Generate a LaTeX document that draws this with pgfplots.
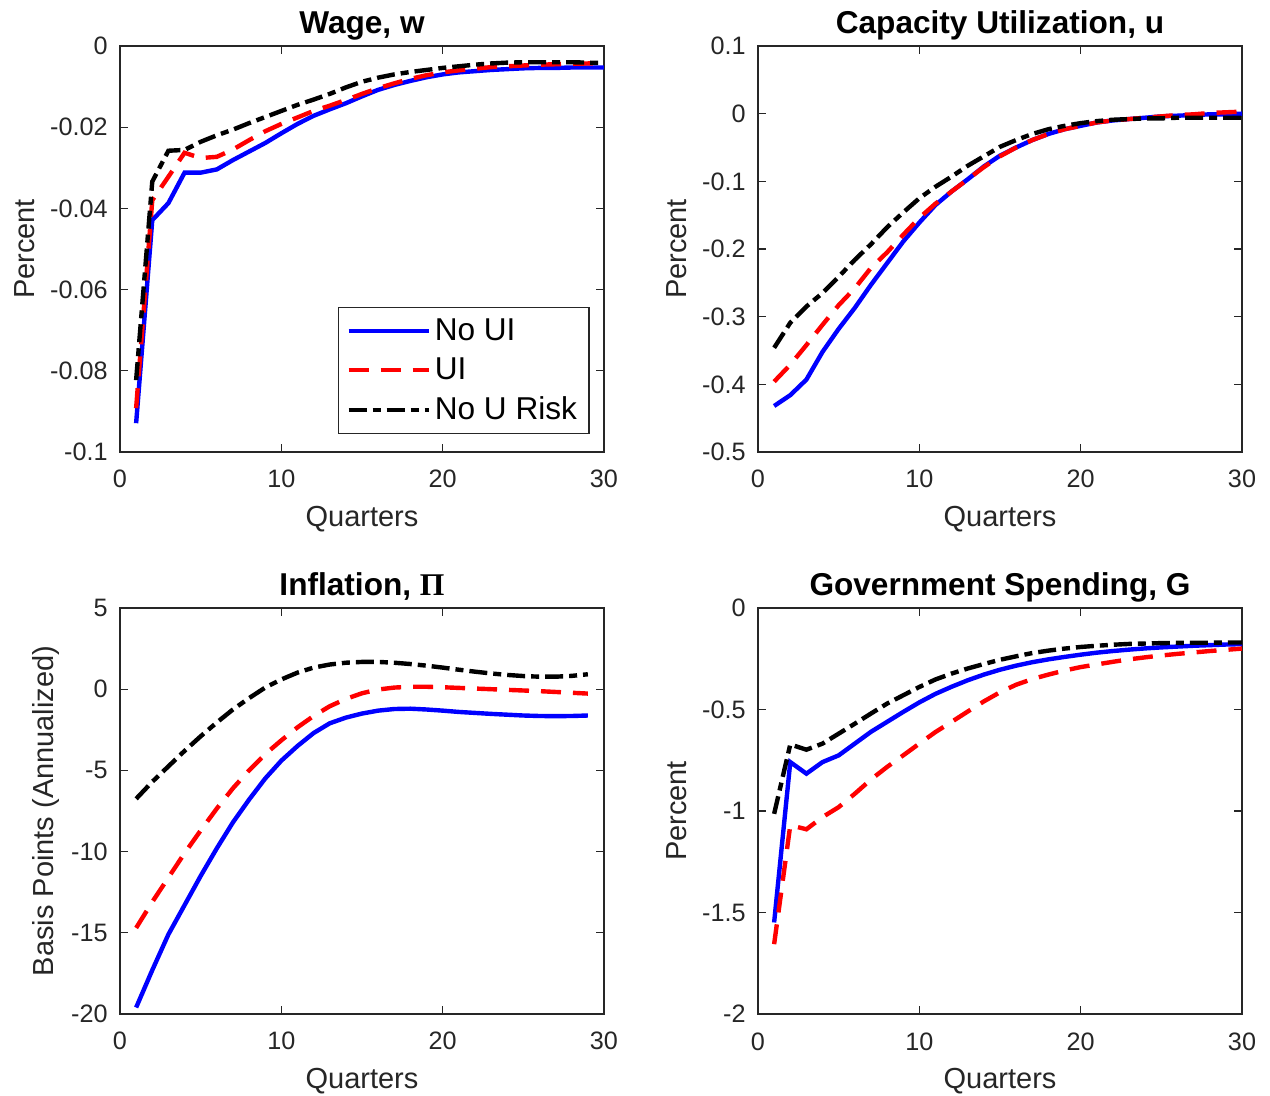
\documentclass[border=0pt]{standalone}
\usepackage{pgfplots}
\pgfplotsset{compat=1.18}
\usepackage{fontspec}
\setmainfont{Liberation Sans}
\newfontfamily\serifbf{Liberation Serif}
\definecolor{axgray}{rgb}{0.15,0.15,0.15}
\newcommand{\ticksize}{\fontsize{12.6}{14}\selectfont}
\newcommand{\labsize}{\fontsize{14.5}{16}\selectfont}
\newcommand{\titsize}{\fontsize{15.8}{18}\selectfont}
\newcommand{\legsize}{\fontsize{15.8}{18}\selectfont}
\pgfplotsset{
  every axis title shift=0pt,
  myax/.style={
    scale only axis, width=242pt, height=203pt,
    xmin=0, xmax=30, xtick={0,10,20,30}, xticklabels={0,10,20,30},
    tick align=inside, tick pos=both,
    axis line style={draw=axgray, line width=0.6pt},
    major tick style={draw=axgray, line width=0.6pt},
    major tick length=4pt,
    ticklabel style={font=\ticksize, text=axgray},
    xticklabel style={inner sep=0pt, anchor=north, yshift=-9pt},
    yticklabel style={inner sep=0pt, anchor=east, xshift=-6pt},
    xlabel style={at={(axis description cs:0.5,-0.184)}, anchor=base, font=\labsize, text=axgray},
    title style={at={(axis description cs:0.5,1.031)}, anchor=base, font=\titsize\bfseries, text=black},
    scaled ticks=false,
    legend image code/.code={\draw[#1] (0pt,0pt) -- (40pt,0pt);},
  },
  noui/.style={blue, line width=2.2pt, solid},
  ui/.style={red, line width=2.2pt, dash pattern=on 10pt off 6pt},
  nour/.style={black, line width=2.2pt, dash pattern=on 9pt off 3pt on 4pt off 3pt},
}
\begin{document}
\begin{tikzpicture}
\useasboundingbox (0,0) rectangle (635pt,-548pt);
% ---------------- Wage
\begin{axis}[myax, at={(60pt,-23pt)}, anchor=north west,
  ymin=-0.1, ymax=0, ytick={-0.1,-0.08,-0.06,-0.04,-0.02,0},
  yticklabels={-0.1,-0.08,-0.06,-0.04,-0.02,0},
  title={Wage, w}, xlabel={Quarters}, ylabel={Percent},
  ylabel style={at={(axis description cs:-0.198,0.5)}, anchor=center, rotate=0, font=\labsize, text=axgray},
  legend style={at={(axis description cs:0.45,0.357)}, anchor=north west, font=\legsize, draw=axgray, line width=0.6pt, row sep=3.2pt, inner xsep=4pt, inner ysep=3.5pt},
  legend cell align=left]
\addplot[noui] coordinates {(1,-0.0929) (2,-0.0429) (3,-0.0387) (4,-0.0312) (5,-0.0312) (6,-0.0304) (7,-0.0281) (8,-0.0260) (9,-0.0239) (10,-0.0215) (11,-0.0192) (12,-0.0172) (13,-0.0156) (14,-0.0141) (15,-0.0124) (16,-0.0108) (17,-0.0096) (18,-0.0086) (19,-0.0077) (20,-0.0070) (21,-0.0065) (22,-0.0062) (23,-0.0059) (24,-0.0057) (25,-0.0055) (26,-0.0054) (27,-0.0054) (28,-0.0053) (29,-0.0053) (30,-0.0053)};
\addplot[ui] coordinates {(1,-0.0892) (2,-0.0380) (3,-0.0322) (4,-0.0263) (5,-0.0276) (6,-0.0273) (7,-0.0255) (8,-0.0232) (9,-0.0210) (10,-0.0192) (11,-0.0176) (12,-0.0160) (13,-0.0147) (14,-0.0133) (15,-0.0118) (16,-0.0104) (17,-0.0092) (18,-0.0081) (19,-0.0072) (20,-0.0065) (21,-0.0060) (22,-0.0056) (23,-0.0052) (24,-0.0050) (25,-0.0048) (26,-0.0046) (27,-0.0045) (28,-0.0044) (29,-0.0043) (30,-0.0042)};
\addplot[nour] coordinates {(1,-0.0823) (2,-0.0334) (3,-0.0258) (4,-0.0256) (5,-0.0236) (6,-0.0220) (7,-0.0206) (8,-0.0190) (9,-0.0175) (10,-0.0160) (11,-0.0145) (12,-0.0132) (13,-0.0118) (14,-0.0102) (15,-0.0088) (16,-0.0078) (17,-0.0070) (18,-0.0064) (19,-0.0059) (20,-0.0054) (21,-0.0050) (22,-0.0046) (23,-0.0043) (24,-0.0041) (25,-0.0040) (26,-0.0040) (27,-0.0040) (28,-0.0040) (29,-0.0041) (30,-0.0042)};
\legend{No UI, UI, No U Risk}
\end{axis}
% ---------------- Capacity utilization
\begin{axis}[myax, at={(379pt,-23pt)}, anchor=north west,
  ymin=-0.5, ymax=0.1, ytick={-0.5,-0.4,-0.3,-0.2,-0.1,0,0.1},
  yticklabels={-0.5,-0.4,-0.3,-0.2,-0.1,0,0.1},
  title={Capacity Utilization, u}, xlabel={Quarters}, ylabel={Percent},
  ylabel style={at={(axis description cs:-0.169,0.5)}, anchor=center, font=\labsize, text=axgray}]
\addplot[noui] coordinates {(1,-0.432) (2,-0.416) (3,-0.393) (4,-0.352) (5,-0.318) (6,-0.287) (7,-0.253) (8,-0.221) (9,-0.189) (10,-0.161) (11,-0.135) (12,-0.115) (13,-0.097) (14,-0.078) (15,-0.062) (16,-0.050) (17,-0.039) (18,-0.030) (19,-0.023) (20,-0.018) (21,-0.013) (22,-0.010) (23,-0.008) (24,-0.006) (25,-0.004) (26,-0.003) (27,-0.002) (28,-0.001) (29,-0.001) (30,0.000)};
\addplot[ui] coordinates {(1,-0.396) (2,-0.371) (3,-0.342) (4,-0.312) (5,-0.283) (6,-0.258) (7,-0.228) (8,-0.205) (9,-0.179) (10,-0.154) (11,-0.133) (12,-0.115) (13,-0.097) (14,-0.079) (15,-0.063) (16,-0.050) (17,-0.039) (18,-0.030) (19,-0.023) (20,-0.018) (21,-0.013) (22,-0.010) (23,-0.008) (24,-0.006) (25,-0.004) (26,-0.002) (27,-0.001) (28,0.001) (29,0.002) (30,0.003)};
\addplot[nour] coordinates {(1,-0.346) (2,-0.309) (3,-0.285) (4,-0.265) (5,-0.241) (6,-0.216) (7,-0.193) (8,-0.168) (9,-0.146) (10,-0.125) (11,-0.108) (12,-0.093) (13,-0.077) (14,-0.063) (15,-0.049) (16,-0.039) (17,-0.030) (18,-0.023) (19,-0.018) (20,-0.014) (21,-0.011) (22,-0.009) (23,-0.008) (24,-0.007) (25,-0.007) (26,-0.006) (27,-0.006) (28,-0.006) (29,-0.006) (30,-0.006)};
\end{axis}
% ---------------- Inflation
\begin{axis}[myax, at={(60pt,-304pt)}, anchor=north west,
  ymin=-20, ymax=5, ytick={-20,-15,-10,-5,0,5},
  yticklabels={-20,-15,-10,-5,0,5},
  title={Inflation, {\serifbf\bfseries Π}}, xlabel={Quarters}, ylabel={Basis Points (Annualized)},
  ylabel style={at={(axis description cs:-0.153,0.5)}, anchor=center, font=\labsize, text=axgray}]
\addplot[noui] coordinates {(1,-19.6) (2,-17.3) (3,-15.1) (4,-13.3) (5,-11.5) (6,-9.8) (7,-8.2) (8,-6.8) (9,-5.5) (10,-4.4) (11,-3.5) (12,-2.7) (13,-2.1) (14,-1.75) (15,-1.5) (16,-1.32) (17,-1.22) (18,-1.2) (19,-1.25) (20,-1.32) (21,-1.4) (22,-1.46) (23,-1.52) (24,-1.57) (25,-1.62) (26,-1.65) (27,-1.66) (28,-1.65) (29,-1.62)};
\addplot[ui] coordinates {(1,-14.7) (2,-13.1) (3,-11.6) (4,-10.1) (5,-8.7) (6,-7.35) (7,-6.1) (8,-5.0) (9,-4.0) (10,-3.15) (11,-2.35) (12,-1.65) (13,-1.05) (14,-0.6) (15,-0.25) (16,-0.02) (17,0.1) (18,0.15) (19,0.15) (20,0.12) (21,0.08) (22,0.04) (23,0.0) (24,-0.04) (25,-0.08) (26,-0.12) (27,-0.17) (28,-0.22) (29,-0.27)};
\addplot[nour] coordinates {(1,-6.75) (2,-5.7) (3,-4.75) (4,-3.8) (5,-2.9) (6,-2.05) (7,-1.25) (8,-0.55) (9,0.1) (10,0.6) (11,1.02) (12,1.33) (13,1.52) (14,1.63) (15,1.68) (16,1.68) (17,1.63) (18,1.55) (19,1.45) (20,1.33) (21,1.2) (22,1.08) (23,0.97) (24,0.88) (25,0.81) (26,0.77) (27,0.77) (28,0.82) (29,0.92)};
\end{axis}
% ---------------- Government spending
\begin{axis}[myax, at={(379pt,-304pt)}, anchor=north west,
  ymin=-2, ymax=0, ytick={-2,-1.5,-1,-0.5,0},
  yticklabels={-2,-1.5,-1,-0.5,0},
  title={Government Spending, G}, xlabel={Quarters}, ylabel={Percent},
  ylabel style={at={(axis description cs:-0.169,0.5)}, anchor=center, font=\labsize, text=axgray}]
\addplot[noui] coordinates {(1,-1.549) (2,-0.759) (3,-0.816) (4,-0.759) (5,-0.726) (6,-0.668) (7,-0.610) (8,-0.561) (9,-0.512) (10,-0.465) (11,-0.423) (12,-0.388) (13,-0.356) (14,-0.328) (15,-0.304) (16,-0.284) (17,-0.267) (18,-0.253) (19,-0.241) (20,-0.230) (21,-0.220) (22,-0.212) (23,-0.205) (24,-0.199) (25,-0.194) (26,-0.190) (27,-0.186) (28,-0.183) (29,-0.180) (30,-0.178)};
\addplot[ui] coordinates {(1,-1.656) (2,-1.07) (3,-1.09) (4,-1.03) (5,-0.981) (6,-0.915) (7,-0.845) (8,-0.783) (9,-0.726) (10,-0.668) (11,-0.611) (12,-0.561) (13,-0.510) (14,-0.460) (15,-0.415) (16,-0.378) (17,-0.350) (18,-0.328) (19,-0.308) (20,-0.291) (21,-0.278) (22,-0.265) (23,-0.253) (24,-0.243) (25,-0.234) (26,-0.226) (27,-0.219) (28,-0.212) (29,-0.206) (30,-0.200)};
\addplot[nour] coordinates {(1,-1.014) (2,-0.672) (3,-0.698) (4,-0.668) (5,-0.619) (6,-0.570) (7,-0.520) (8,-0.471) (9,-0.430) (10,-0.389) (11,-0.352) (12,-0.323) (13,-0.298) (14,-0.276) (15,-0.255) (16,-0.238) (17,-0.222) (18,-0.210) (19,-0.200) (20,-0.192) (21,-0.186) (22,-0.181) (23,-0.177) (24,-0.175) (25,-0.173) (26,-0.172) (27,-0.171) (28,-0.171) (29,-0.170) (30,-0.170)};
\end{axis}
\end{tikzpicture}
\end{document}
